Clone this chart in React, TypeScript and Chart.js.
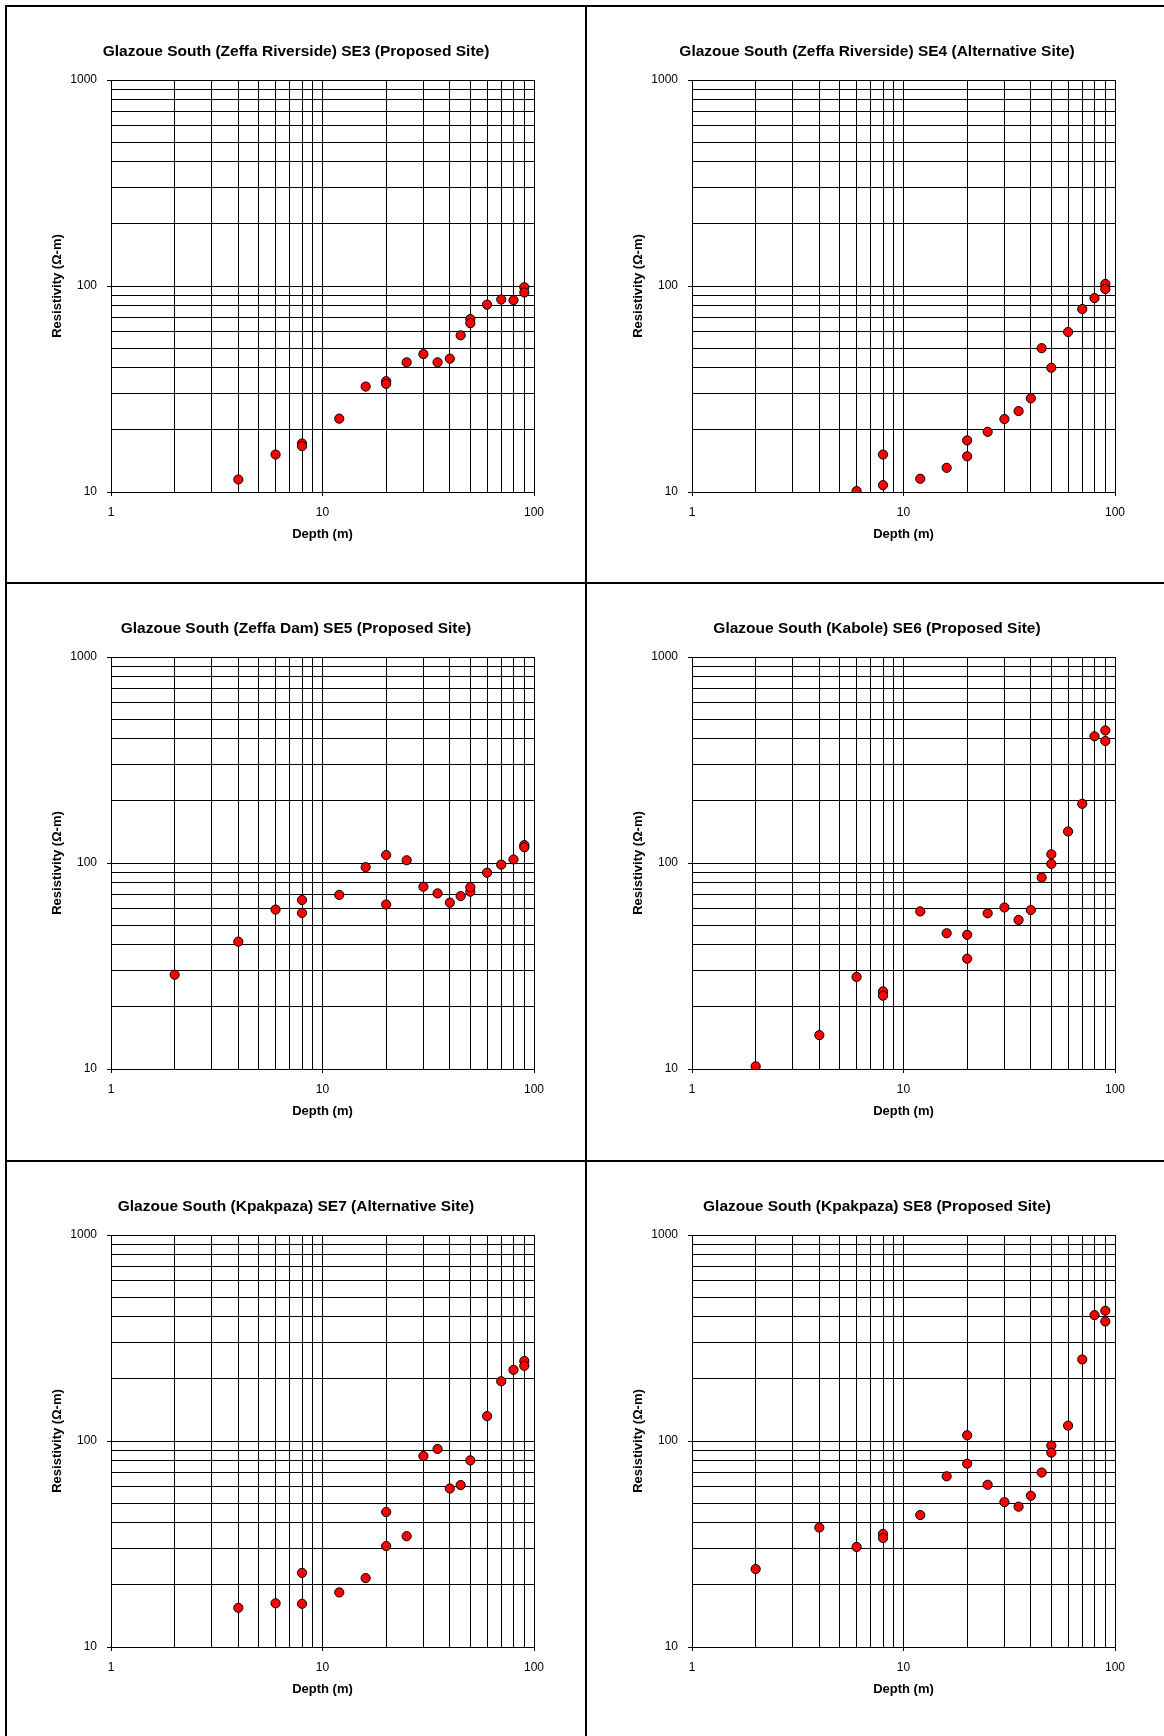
import React, { useEffect, useRef } from 'react';
import { Chart, registerables } from 'chart.js';

Chart.register(...registerables);

// ---- axis grid / tick values ----
const xGridValues = [1, 2, 3, 4, 5, 6, 7, 8, 9, 10, 20, 30, 40, 50, 60, 70, 80, 90, 100];
const yGridValues = [10, 20, 30, 40, 50, 60, 70, 80, 90, 100, 200, 300, 400, 500, 600, 700, 800, 900, 1000];
const xTickLabels = [1, 10, 100];
const yTickLabels = [10, 100, 1000];
const xAxisTitle = 'Depth (m)';
const yAxisTitle = 'Resistivity (Ω-m)';

// ---- SE3 ----
const se3Title = 'Glazoue South (Zeffa Riverside) SE3 (Proposed Site)';
const se3Depth = [4, 6, 8, 8, 12, 16, 20, 20, 25, 30, 35, 40, 45, 50, 50, 60, 70, 80, 90, 90];
const se3Resistivity = [11.5, 15.2, 17.2, 16.7, 22.7, 32.5, 34.5, 33.5, 42.6, 46.7, 42.6, 44.4, 57.6, 69.1, 66.0, 81.2, 86.0, 85.3, 98.6, 93.0];

// ---- SE4 ----
const se4Title = 'Glazoue South (Zeffa Riverside) SE4 (Alternative Site)';
const se4Depth = [6, 8, 8, 12, 16, 20, 20, 25, 30, 35, 40, 45, 50, 60, 70, 80, 90, 90];
const se4Resistivity = [10.1, 15.2, 10.8, 11.6, 13.1, 17.8, 14.9, 19.6, 22.6, 24.7, 28.5, 49.9, 40.1, 59.8, 77.3, 87.4, 102.3, 96.6];

// ---- SE5 ----
const se5Title = 'Glazoue South (Zeffa Dam) SE5 (Proposed Site)';
const se5Depth = [2, 4, 6, 8, 8, 12, 16, 20, 20, 25, 30, 35, 40, 45, 50, 50, 60, 70, 80, 90, 90];
const se5Resistivity = [28.7, 41.5, 59.4, 66.1, 57.2, 70.0, 95.4, 109.3, 62.9, 103.1, 76.7, 71.2, 64.2, 69.1, 72.6, 76.3, 89.7, 98.2, 104.0, 122.1, 119.2];

// ---- SE6 ----
const se6Title = 'Glazoue South (Kabole) SE6 (Proposed Site)';
const se6Depth = [2, 4, 6, 8, 8, 12, 16, 20, 20, 25, 30, 35, 40, 45, 50, 50, 60, 70, 80, 90, 90];
const se6Resistivity = [10.3, 14.6, 28.0, 23.8, 22.7, 58.2, 45.6, 44.8, 34.3, 57.0, 60.8, 52.9, 59.1, 85.0, 110.2, 99.0, 142.2, 193.8, 412, 440, 391];

// ---- SE7 ----
const se7Title = 'Glazoue South (Kpakpaza) SE7 (Alternative Site)';
const se7Depth = [4, 6, 8, 8, 12, 16, 20, 20, 25, 30, 35, 40, 45, 50, 60, 70, 80, 90, 90];
const se7Resistivity = [15.5, 16.3, 22.9, 16.2, 18.4, 21.6, 45.2, 30.9, 34.5, 84.6, 91.5, 58.8, 61.1, 80.5, 132.1, 194.9, 221.5, 244.4, 231.7];

// ---- SE8 ----
const se8Title = 'Glazoue South (Kpakpaza) SE8 (Proposed Site)';
const se8Depth = [2, 4, 6, 8, 8, 12, 16, 20, 20, 25, 30, 35, 40, 45, 50, 50, 60, 70, 80, 90, 90];
const se8Resistivity = [23.9, 38.0, 30.6, 35.4, 33.8, 43.7, 67.4, 106.6, 77.6, 61.3, 50.5, 48.0, 54.2, 70.3, 95.0, 87.8, 118.7, 248.7, 408, 428.9, 380.4];

const FONT = "'Liberation Sans', Arial, Helvetica, sans-serif";

const panels = [
  { title: se3Title, depth: se3Depth, res: se3Resistivity, left: 11, top: 10 },
  { title: se4Title, depth: se4Depth, res: se4Resistivity, left: 592, top: 10 },
  { title: se5Title, depth: se5Depth, res: se5Resistivity, left: 11, top: 587 },
  { title: se6Title, depth: se6Depth, res: se6Resistivity, left: 592, top: 587 },
  { title: se7Title, depth: se7Depth, res: se7Resistivity, left: 11, top: 1165 },
  { title: se8Title, depth: se8Depth, res: se8Resistivity, left: 592, top: 1165 },
];

const CW = 570;
const CH = 560;

function Panel(props: { title: string; depth: number[]; res: number[]; left: number; top: number }) {
  const ref = useRef<HTMLCanvasElement | null>(null);
  useEffect(() => {
    if (!ref.current) return;
    const chart = new Chart(ref.current, {
      type: 'scatter',
      data: {
        datasets: [
          {
            data: props.depth.map((d, i) => ({ x: d, y: props.res[i] })),
            backgroundColor: '#ff0000',
            borderColor: '#000000',
            borderWidth: 1,
            pointRadius: 4.6,
            pointHoverRadius: 4.6,
          },
        ],
      },
      options: {
        animation: false,
        responsive: false,
        devicePixelRatio: 1,
        layout: { padding: 0 },
        plugins: {
          legend: { display: false },
          tooltip: { enabled: false },
          title: {
            display: true,
            text: props.title,
            color: '#000',
            font: { family: FONT, size: 15.5, weight: 'bold', lineHeight: 1.2 },
            padding: { top: 32.7, bottom: 18.7 },
          },
        },
        scales: {
          x: {
            type: 'logarithmic',
            position: 'bottom',
            min: 1,
            max: 100,
            afterBuildTicks: (s: any) => {
              s.ticks = xGridValues.map((v) => ({ value: v }));
            },
            afterFit: (s: any) => {
              s.height = 78;
            },
            ticks: {
              autoSkip: false,
              maxRotation: 0,
              minRotation: 0,
              padding: 9,
              color: '#000',
              font: { family: FONT, size: 12 },
              callback: (v: any) => (xTickLabels.includes(Number(v)) ? String(v) : ''),
            },
            grid: {
              color: '#000',
              lineWidth: 1,
              tickLength: 4,
              tickColor: (c: any) => (c.tick && xTickLabels.includes(c.tick.value) ? '#000' : 'rgba(0,0,0,0)'),
            },
            border: { display: true, color: '#000', width: 1 },
            title: {
              display: true,
              text: xAxisTitle,
              color: '#000',
              font: { family: FONT, size: 13, weight: 'bold', lineHeight: 1.2 },
              padding: { top: 0, bottom: 28.2 },
            },
          },
          y: {
            type: 'logarithmic',
            position: 'left',
            min: 10,
            max: 1000,
            afterBuildTicks: (s: any) => {
              s.ticks = yGridValues.map((v) => ({ value: v }));
            },
            afterFit: (s: any) => {
              s.width = 100;
            },
            ticks: {
              autoSkip: false,
              padding: 10,
              color: '#000',
              font: { family: FONT, size: 12 },
              callback: (v: any) => (yTickLabels.includes(Number(v)) ? String(v) : ''),
            },
            grid: {
              color: '#000',
              lineWidth: 1,
              tickLength: 4,
              tickColor: (c: any) => (c.tick && yTickLabels.includes(c.tick.value) ? '#000' : 'rgba(0,0,0,0)'),
            },
            border: { display: true, color: '#000', width: 1 },
            title: {
              display: true,
              text: yAxisTitle,
              color: '#000',
              font: { family: FONT, size: 13, weight: 'bold', lineHeight: 1.2 },
              padding: { top: 38.2, bottom: 0 },
            },
          },
          yR: {
            type: 'linear',
            position: 'right',
            display: true,
            grid: { display: false },
            ticks: { display: false },
            border: { display: false },
            afterFit: (s: any) => {
              s.width = 47;
            },
          },
        },
      } as any,
    });
    return () => chart.destroy();
  }, []);
  return (
    <canvas
      ref={ref}
      width={CW}
      height={CH}
      style={{ position: 'absolute', left: props.left, top: props.top, width: CW, height: CH, display: 'block' }}
    />
  );
}

const line = (left: number, top: number, width: number, height: number) => (
  <div style={{ position: 'absolute', left, top, width, height, background: '#000' }} />
);

export default function App() {
  return (
    <div style={{ position: 'absolute', left: 0, top: 0, width: 1164, height: 1736, background: '#fff', overflow: 'hidden' }}>
      {line(5, 5, 1159, 2)}
      {line(5, 5, 2, 1731)}
      {line(585, 5, 2, 1731)}
      {line(5, 582, 1159, 2)}
      {line(5, 1160, 1159, 2)}
      {panels.map((p, i) => (
        <Panel key={i} {...p} />
      ))}
    </div>
  );
}
